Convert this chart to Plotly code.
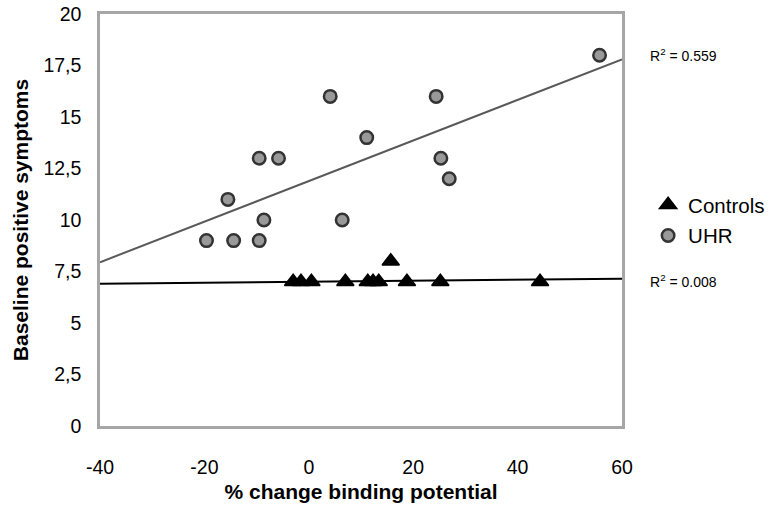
import plotly.graph_objects as go

# UHR group
uhr_x = [-19.6, -14.4, -9.5, -15.5, -8.6, -9.5, -5.8, 4.1, 11.1, 6.4, 24.4, 25.3, 26.9, 55.7]
uhr_y = [9, 9, 9, 11, 10, 13, 13, 16, 14, 10, 16, 13, 12, 18]
# Controls group
ctrl_x = [-3.0, -1.5, 0.5, 7.0, 11.3, 12.3, 13.4, 15.7, 18.8, 25.2, 44.3]
ctrl_y = [7, 7, 7, 7, 7, 7, 7, 8, 7, 7, 7]
# Linear trendlines (endpoints)
trend_x = [-40, 60]
uhr_trend_y = [7.95, 17.8]
ctrl_trend_y = [6.9, 7.15]
r2_labels = ["R<sup>2</sup> = 0.559", "R<sup>2</sup> = 0.008"]

y_ticks = [0, 2.5, 5, 7.5, 10, 12.5, 15, 17.5, 20]
y_ticktext = ["0", "2,5", "5", "7,5", "10", "12,5", "15", "17,5", "20"]
x_ticks = [-40, -20, 0, 20, 40, 60]

font = "Liberation Sans, Arial, sans-serif"

fig = go.Figure()
fig.add_trace(go.Scatter(x=trend_x, y=uhr_trend_y, mode="lines",
                         line=dict(color="#595959", width=2), showlegend=False, hoverinfo="skip"))
fig.add_trace(go.Scatter(x=trend_x, y=ctrl_trend_y, mode="lines",
                         line=dict(color="#000000", width=2), showlegend=False, hoverinfo="skip"))
fig.add_trace(go.Scatter(x=ctrl_x, y=ctrl_y, mode="markers", name="Controls", legendgroup="c",
                         marker=dict(symbol="triangle-up", size=15, color="#000000",
                                     line=dict(width=1.5, color="#000000"))))
fig.add_trace(go.Scatter(x=uhr_x, y=uhr_y, mode="markers", name="UHR", legendgroup="u",
                         marker=dict(symbol="circle", size=12.5, color="#999999",
                                     line=dict(width=2.5, color="#333333"))))

fig.add_annotation(x=1.05, y=0.9, xref="paper", yref="paper", text=r2_labels[0],
                   showarrow=False, xanchor="left", yanchor="middle",
                   font=dict(size=14, color="#000", family=font))
fig.add_annotation(x=1.05, y=0.353, xref="paper", yref="paper", text=r2_labels[1],
                   showarrow=False, xanchor="left", yanchor="middle",
                   font=dict(size=14, color="#000", family=font))

axis_common = dict(showline=True, linecolor="#a6a6a6", linewidth=2.5, mirror=True,
                   showgrid=False, zeroline=False, ticks="",
                   tickfont=dict(size=19.5, color="#000", family=font))

fig.update_xaxes(range=[-40, 60], tickvals=x_ticks, ticktext=[str(v) for v in x_ticks],
                 ticklabelstandoff=22,
                 title=dict(text="<b>% change binding potential</b>", standoff=8,
                            font=dict(size=21, color="#000", family=font)),
                 **axis_common)
fig.update_yaxes(range=[0, 20], tickvals=y_ticks, ticktext=y_ticktext,
                 ticklabelstandoff=12,
                 title=dict(text="<b>Baseline positive symptoms</b>", standoff=10,
                            font=dict(size=21, color="#000", family=font)),
                 **axis_common)

fig.update_layout(
    width=770, height=510,
    margin=dict(l=99.5, r=148, t=14, b=83.5, autoexpand=False),
    paper_bgcolor="white", plot_bgcolor="white",
    font=dict(family=font, color="#000"),
    legend=dict(x=1.05, y=0.585, xanchor="left", yanchor="top",
                font=dict(size=20.5, color="#000", family=font),
                itemwidth=30, tracegroupgap=1, bgcolor="rgba(0,0,0,0)"),
)

fig.write_html("out.html", config={"displayModeBar": False},
               post_script="document.body.style.margin='0';")
